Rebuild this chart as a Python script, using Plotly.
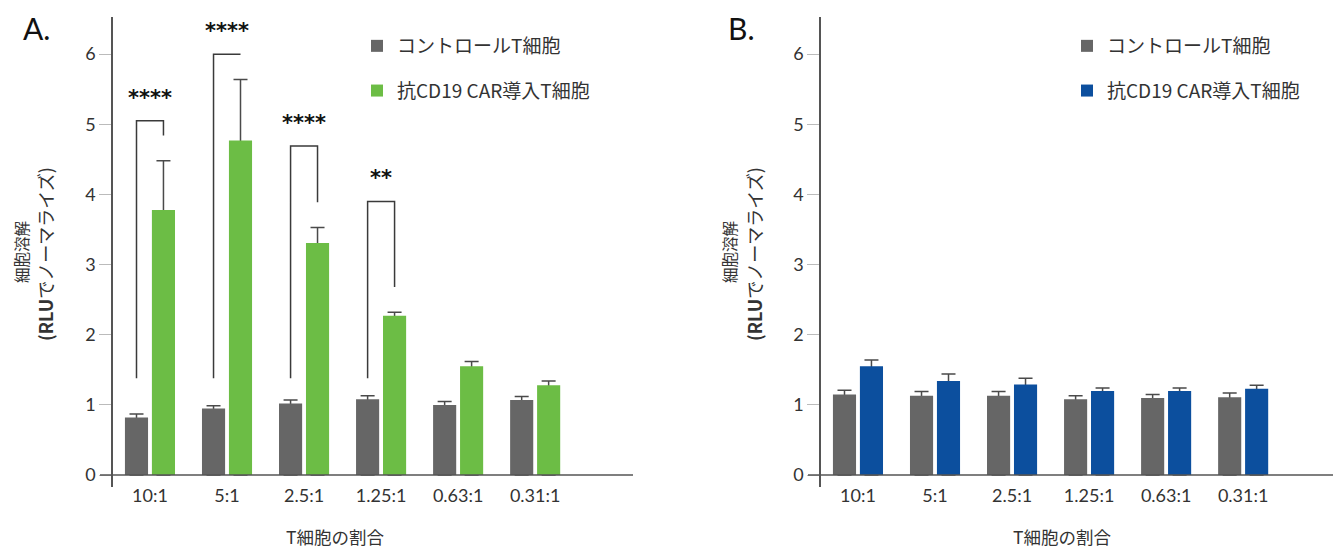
import plotly.graph_objects as go

categories = ["10:1", "5:1", "2.5:1", "1.25:1", "0.63:1", "0.31:1"]

# Panel A
a_control = [0.82, 0.95, 1.02, 1.08, 1.00, 1.07]
a_control_err = [0.87, 0.99, 1.07, 1.13, 1.05, 1.12]
a_car = [3.78, 4.77, 3.31, 2.27, 1.55, 1.28]
a_car_err = [4.48, 5.64, 3.53, 2.32, 1.62, 1.34]

# Panel B
b_control = [1.15, 1.13, 1.13, 1.08, 1.10, 1.11]
b_control_err = [1.21, 1.19, 1.19, 1.13, 1.15, 1.17]
b_car = [1.55, 1.34, 1.29, 1.20, 1.20, 1.23]
b_car_err = [1.64, 1.44, 1.38, 1.24, 1.24, 1.28]

# Significance brackets (panel A)
sig_index = [0, 1, 2, 3]
sig_top = [5.05, 6.00, 4.69, 3.90]
sig_right_end = [4.84, 6.00, 3.89, 2.68]
sig_left_end = [1.38, 1.38, 1.38, 1.38]
sig_labels = ["****", "****", "****", "**"]

legend_names = ["コントロールT細胞", "抗CD19 CAR導入T細胞"]
x_title = "T細胞の割合"
y_title_1 = "細胞溶解"
y_title_2 = "<b>(RLU</b>でノーマライズ)"

GRAY = "#666666"
GREEN = "#6cbd45"
BLUE = "#0c4f9e"
ERR = "#4a4a4a"
TXT = "#333333"
xs = list(range(len(categories)))

# The page body has an 8px margin; lay out in reference pixels and convert.
OFF = 8
W, H = 1341 - OFF, 550 - OFF
def px(x):
    return (x - OFF) / W
def py(y):
    return 1 - (y - OFF) / H

fig = go.Figure()

def add_err(vals, tops, xa, ya, offset):
    # transparent carrier for the upward error bar; the real bar drawn later hides the stem
    fig.add_trace(go.Bar(
        x=xs, y=vals, marker=dict(color="rgba(0,0,0,0)", line=dict(width=0)),
        width=0.3, offset=offset, xaxis=xa, yaxis=ya, showlegend=False, hoverinfo="skip",
        error_y=dict(type="data", symmetric=False,
                     array=[t - v for t, v in zip(tops, vals)],
                     arrayminus=vals,
                     color=ERR, thickness=1.5, width=7),
    ))

def add_bar(vals, color, name, xa, ya, offset, legend):
    fig.add_trace(go.Bar(
        x=xs, y=vals, name=name, marker=dict(color=color, line=dict(width=0)),
        width=0.3, offset=offset, xaxis=xa, yaxis=ya, legend=legend,
        legendgroup=name + legend,
    ))

add_err(a_control, a_control_err, "x", "y", -0.325)
add_err(a_car, a_car_err, "x", "y", 0.025)
add_err(b_control, b_control_err, "x2", "y2", -0.325)
add_err(b_car, b_car_err, "x2", "y2", 0.025)
add_bar(a_control, GRAY, legend_names[0], "x", "y", -0.325, "legend")
add_bar(a_car, GREEN, legend_names[1], "x", "y", 0.025, "legend")
add_bar(b_control, GRAY, legend_names[0], "x2", "y2", -0.325, "legend2")
add_bar(b_car, BLUE, legend_names[1], "x2", "y2", 0.025, "legend2")

ydom = [py(487), py(17)]
tickfont = dict(family="Lato, Open Sans, sans-serif", size=18, color=TXT)

def xaxis(dom):
    return dict(domain=dom, range=[-0.48, 6.27], tickvals=xs, ticktext=categories,
                showgrid=False, zeroline=False, showline=False, ticks="",
                tickfont=tickfont, ticklabelstandoff=-4, fixedrange=True)

def yaxis(anchor):
    return dict(domain=ydom, range=[-0.17, 6.53], tickvals=list(range(7)),
                showgrid=False, zeroline=False, showline=True, linecolor="#555555",
                linewidth=1.5, ticks="outside", ticklen=12, tickcolor="#bbbbbb",
                tickwidth=1.2, tickfont=tickfont, anchor=anchor, fixedrange=True)

shapes = []
for xr, yr in (("x", "y"), ("x2", "y2")):
    shapes.append(dict(type="line", xref=xr + " domain", yref=yr, x0=-0.025, x1=1,
                       y0=0, y1=0, line=dict(color="#555555", width=1.5)))

annotations = []
for i, top, rend, lend, lab in zip(sig_index, sig_top, sig_right_end, sig_left_end, sig_labels):
    xl = i - 0.175
    xr_ = i + 0.175
    path = f"M {xl},{lend} L {xl},{top} L {xr_},{top} L {xr_},{rend}"
    shapes.append(dict(type="path", xref="x", yref="y", path=path,
                       line=dict(color="#3a3a3a", width=1.5)))
    annotations.append(dict(x=i, y=top, xref="x", yref="y", text=f"<b>{lab}</b>",
                            showarrow=False, xanchor="center", yanchor="bottom", yshift=9,
                            font=dict(family="DejaVu Sans", size=21, color="#111111")))

# panel letters
for letter, xc in (("A.", 36), ("B.", 741)):
    annotations.append(dict(x=px(xc), y=py(28), xref="paper", yref="paper", text=letter,
                            showarrow=False, xanchor="center", yanchor="middle",
                            font=dict(family="Lato, sans-serif", size=30, color="#111111")))

# axis titles
for xc in (335, 1062):
    annotations.append(dict(x=px(xc), y=py(536), xref="paper", yref="paper", text=x_title,
                            showarrow=False, xanchor="center", yanchor="middle",
                            font=dict(family="Noto Sans CJK JP", size=17.5, color=TXT)))
for x1, x2 in ((21, 45), (729, 754)):
    annotations.append(dict(x=px(x1), y=py(252), xref="paper", yref="paper", text=y_title_1,
                            showarrow=False, textangle=-90, xanchor="center", yanchor="middle",
                            borderpad=0,
                            font=dict(family="Noto Sans CJK JP", size=15.5, color=TXT)))
    annotations.append(dict(x=px(x2), y=py(254), xref="paper", yref="paper", text=y_title_2,
                            showarrow=False, textangle=-90, xanchor="center", yanchor="middle",
                            borderpad=0,
                            font=dict(family="Noto Sans CJK JP", size=18, color=TXT)))

legfont = dict(family="Noto Sans CJK JP", size=19, color=TXT)
fig.update_layout(
    width=W, height=H, margin=dict(l=0, r=0, t=0, b=0),
    paper_bgcolor="white", plot_bgcolor="white",
    barmode="overlay",
    xaxis=xaxis([px(113), px(633)]), yaxis=yaxis("x"),
    xaxis2=xaxis([px(821), 1.0]), yaxis2=yaxis("x2"),
    shapes=shapes, annotations=annotations,
    legend=dict(x=px(357), y=py(27), xanchor="left", yanchor="top",
                font=legfont, tracegroupgap=17, bgcolor="rgba(0,0,0,0)"),
    legend2=dict(x=px(1067), y=py(27), xanchor="left", yanchor="top",
                 font=legfont, tracegroupgap=17, bgcolor="rgba(0,0,0,0)"),
    showlegend=True,
)

fig.write_html("out.html")
